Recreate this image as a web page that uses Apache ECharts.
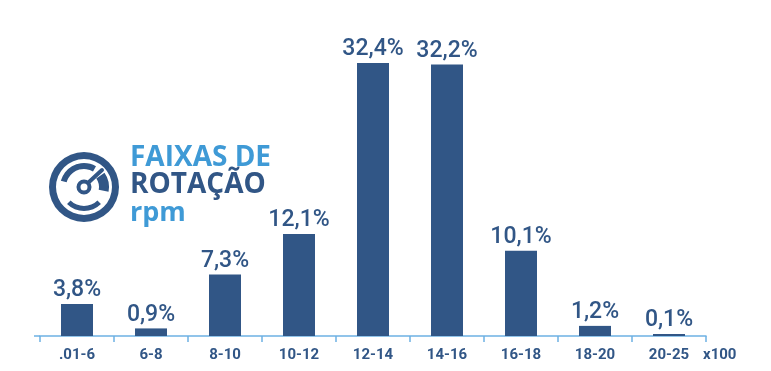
<!DOCTYPE html>
<html><head><meta charset="utf-8">
<script src="https://cdn.jsdelivr.net/npm/echarts@6/dist/echarts.min.js"></script>
<style>html,body{margin:0;padding:0;background:#fff}#c{width:771px;height:371px}</style>
</head><body><div id="c"></div>
<script>
const categories = ['.01-6','6-8','8-10','10-12','12-14','14-16','16-18','18-20','20-25'];
const shareValues = [3.8,0.9,7.3,12.1,32.4,32.2,10.1,1.2,0.1];
const titleLines = ['FAIXAS DE','ROTAÇÃO','rpm'];
const unitLabel = 'x100';
const dark = '#315686', light = '#3f9ad6', axisBlue = '#6db1e3';
const narrow = 'Roboto,"Noto Sans",sans-serif';
const chart = echarts.init(document.getElementById('c'), null, {renderer:'canvas'});
const ring = (r0,r,a0,a1,fill)=>({type:'sector',shape:{cx:84,cy:187,r0,r,startAngle:a0*Math.PI/180,endAngle:a1*Math.PI/180},style:{fill:fill||dark},silent:true});
chart.setOption({
  animation:false,
  grid:{left:40,right:65,top:0,bottom:35},
  xAxis:{type:'category',data:categories,
    axisLine:{lineStyle:{color:axisBlue,width:1.5}},
    axisTick:{show:true,alignWithLabel:false,length:6,lineStyle:{color:axisBlue,width:1.5}},
    axisLabel:{color:dark,fontFamily:narrow,fontWeight:'bold',fontSize:15,margin:12}},
  yAxis:{type:'value',min:0,max:39.86,show:false},
  series:[{type:'bar',data:shareValues,barWidth:32,barMinHeight:2,itemStyle:{color:dark},
    label:{show:true,position:'top',distance:2,color:dark,fontFamily:narrow,fontWeight:500,fontSize:23,
      formatter:p=>p.value.toFixed(1).replace('.',',')+'%'}}],
  graphic:[
    ring(28,35,0,360),
    ring(18,24,195,300),
    ring(15,25,325,371),
    ring(19,24,45,135),
    {type:'circle',shape:{cx:84,cy:187,r:5.5},style:{fill:'#fff',stroke:dark,lineWidth:4},silent:true},
    {type:'line',shape:{x1:89,y1:182,x2:102,y2:170},style:{stroke:dark,lineWidth:4,lineCap:'round'},silent:true},
    {type:'text',left:130,top:144,style:{text:titleLines[0],fill:light,font:'bold 28px "Open Sans",sans-serif'},silent:true},
    {type:'text',left:130,top:171,style:{text:titleLines[1],fill:dark,font:'bold 28px "Open Sans",sans-serif'},silent:true},
    {type:'text',left:130,top:200,style:{text:titleLines[2],fill:light,font:'bold 27px "Open Sans",sans-serif'},silent:true},
    {type:'line',shape:{x1:34,y1:336,x2:40,y2:336},style:{stroke:axisBlue,lineWidth:1.5},silent:true},
    {type:'text',left:703,top:348,style:{text:unitLabel,fill:dark,font:'bold 15px '+narrow},silent:true}
  ]
});
</script></body></html>
